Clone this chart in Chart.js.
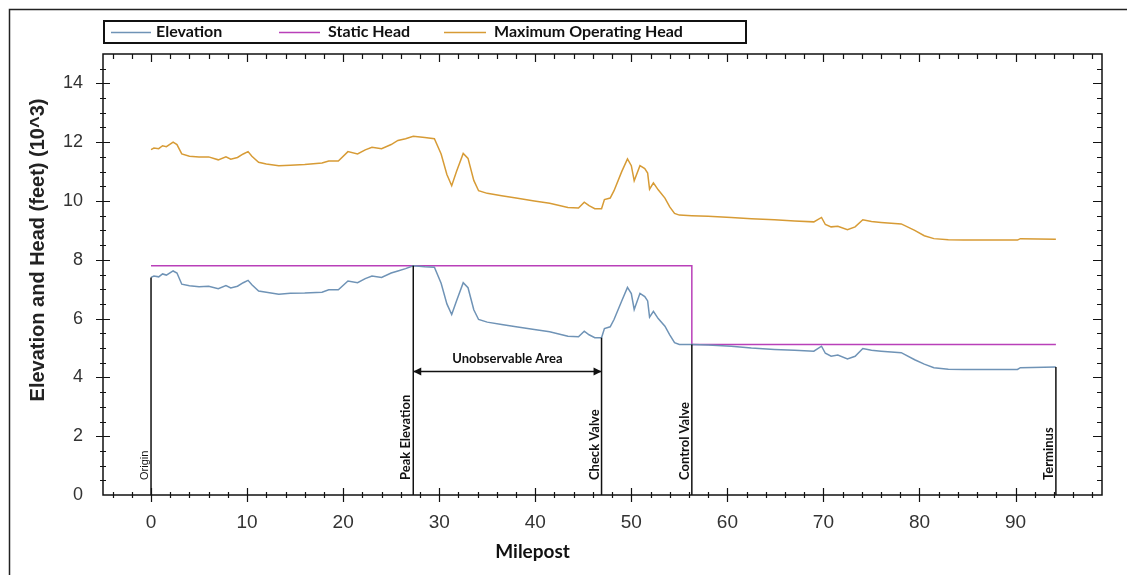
<!DOCTYPE html>
<html>
<head>
<meta charset="utf-8">
<script src="https://cdn.jsdelivr.net/npm/chart.js@4.4.1/dist/chart.umd.min.js"></script>
<style>
  html, body { margin: 0; padding: 0; background: #fff; }
  #wrap { width: 1127px; height: 580px; }
</style>
</head>
<body>
<div id="wrap"><canvas id="profile-chart" width="1127" height="580"></canvas></div>
<script>
// DATA (milepost, thousands of feet)
const elevMiles = [0, 0.3, 0.8, 1.2, 1.6, 2.3, 2.7, 3.2, 4.0, 5.0, 6.0, 7.0, 7.8, 8.3, 9.0, 9.6, 10.1, 10.5, 11.2, 12.0,
  13.3, 14.5, 16.0, 17.8, 18.5, 19.5, 20.5, 21.5, 22.3, 23.0, 24.0, 25.0, 25.7, 26.5, 27.3, 28.5, 29.5, 30.2, 30.8, 31.3,
  31.8, 32.5, 33.0, 33.6, 34.1, 35.0, 36.5, 38.0, 39.9, 41.5, 43.4, 44.5, 45.1, 45.6, 46.2, 46.9, 47.2, 47.8, 48.2, 49.0,
  49.6, 50.0, 50.3, 50.9, 51.4, 51.7, 51.9, 52.3, 52.8, 53.5, 54.0, 54.5, 55.0, 56.3, 58.0, 60.4, 62.5, 64.9, 67.0, 69.0,
  69.8, 70.2, 70.8, 71.5, 72.5, 73.3, 74.1, 75.0, 76.0, 78.1, 79.5, 80.5, 81.5, 83.0, 84.6, 90.2, 90.5, 94.2];
const elevValues = [7.40, 7.45, 7.42, 7.52, 7.48, 7.62, 7.55, 7.17, 7.12, 7.08, 7.10, 7.02, 7.12, 7.04, 7.10, 7.22, 7.30, 7.15, 6.94, 6.90,
  6.83, 6.86, 6.87, 6.90, 6.98, 6.98, 7.28, 7.22, 7.36, 7.45, 7.40, 7.55, 7.62, 7.70, 7.80, 7.76, 7.75, 7.20, 6.50, 6.14,
  6.60, 7.22, 7.05, 6.30, 5.97, 5.88, 5.80, 5.72, 5.63, 5.55, 5.40, 5.38, 5.57, 5.45, 5.35, 5.35, 5.66, 5.72, 5.97, 6.60,
  7.06, 6.85, 6.31, 6.86, 6.75, 6.60, 6.05, 6.25, 6.00, 5.74, 5.45, 5.18, 5.12, 5.12, 5.10, 5.06, 5.00, 4.95, 4.92, 4.89,
  5.06, 4.82, 4.72, 4.76, 4.63, 4.72, 4.98, 4.92, 4.89, 4.84, 4.60, 4.45, 4.33, 4.28, 4.27, 4.27, 4.33, 4.35];

const mohMiles = [0, 0.3, 0.8, 1.2, 1.6, 2.3, 2.7, 3.2, 4.0, 5.0, 6.0, 7.0, 7.8, 8.3, 9.0, 9.6, 10.1, 10.5, 11.2, 12.0,
  13.3, 14.5, 16.0, 17.8, 18.5, 19.5, 20.5, 21.5, 22.3, 23.0, 24.0, 25.0, 25.7, 26.5, 27.3, 28.5, 29.5, 30.2, 30.8, 31.3,
  31.8, 32.5, 33.0, 33.6, 34.1, 35.0, 36.5, 38.0, 39.9, 41.5, 43.4, 44.5, 45.1, 45.6, 46.2, 46.9, 47.2, 47.8, 48.2, 49.0,
  49.6, 50.0, 50.3, 50.9, 51.4, 51.7, 51.9, 52.3, 52.8, 53.5, 54.0, 54.5, 55.0, 56.3, 58.0, 60.4, 62.5, 64.9, 67.0, 69.0,
  69.8, 70.2, 70.8, 71.5, 72.5, 73.3, 74.1, 75.0, 76.0, 78.1, 79.5, 80.5, 81.5, 83.0, 84.6, 90.2, 90.5, 94.2];
const mohValues = [11.75, 11.80, 11.78, 11.88, 11.85, 12.00, 11.92, 11.60, 11.52, 11.50, 11.50, 11.40, 11.50, 11.42, 11.48, 11.60, 11.68, 11.52, 11.32, 11.26,
  11.20, 11.22, 11.24, 11.29, 11.36, 11.36, 11.68, 11.60, 11.74, 11.83, 11.78, 11.92, 12.06, 12.12, 12.20, 12.16, 12.12, 11.60, 10.90, 10.52,
  11.00, 11.62, 11.45, 10.70, 10.35, 10.26, 10.18, 10.10, 10.00, 9.92, 9.78, 9.76, 9.96, 9.84, 9.74, 9.74, 10.05, 10.10, 10.35, 11.00,
  11.43, 11.20, 10.69, 11.20, 11.10, 10.95, 10.40, 10.62, 10.38, 10.10, 9.80, 9.58, 9.52, 9.50, 9.48, 9.44, 9.40, 9.36, 9.32, 9.29,
  9.44, 9.20, 9.12, 9.14, 9.02, 9.12, 9.36, 9.30, 9.27, 9.22, 9.00, 8.82, 8.72, 8.68, 8.67, 8.67, 8.72, 8.70];

const staticMiles = [0, 56.3, 56.3, 94.2];
const staticValues = [7.8, 7.8, 5.12, 5.12];

const markerMiles = [0, 27.3, 46.9, 56.3, 94.2];
const markerTops = [7.4, 7.8, 5.35, 5.12, 4.35];
const markerNames = ['Origin', 'Peak Elevation', 'Check Valve', 'Control Valve', 'Terminus'];

const areaFrom = 27.3;
const areaTo = 46.9;
const areaLevel = 4.2;
const areaLabel = 'Unobservable Area';

const xTicks = [0, 10, 20, 30, 40, 50, 60, 70, 80, 90];
const yTicks = [0, 2, 4, 6, 8, 10, 12, 14];

const pts = (xs, ys) => xs.map((x, i) => ({ x: x, y: ys[i] }));

const markerSets = markerMiles.map((m, i) => ({
  label: markerNames[i],
  data: [{ x: m, y: 0 }, { x: m, y: markerTops[i] }],
  borderColor: '#111',
  borderWidth: 1.5,
  pointRadius: 0,
  isMarker: true
}));

// axes box, ticks, legend, titles, annotations
const decor = {
  id: 'decor',
  afterDraw(chart) {
    const c = chart.ctx;
    const a = chart.chartArea;
    const xs = chart.scales.x, ys = chart.scales.y;
    c.save();

    // outer frame
    c.strokeStyle = '#222';
    c.lineWidth = 1.5;
    c.beginPath();
    c.moveTo(9.5, 575); c.lineTo(9.5, 9.5); c.lineTo(1127, 9.5);
    c.stroke();

    // axes box
    c.lineWidth = 1.5;
    c.strokeStyle = '#111';
    c.strokeRect(a.left, a.top, a.right - a.left, a.bottom - a.top);

    c.lineWidth = 1.2;
    c.beginPath();
    for (let v = -4; v <= 98; v += 2) {
      const px = Math.round(xs.getPixelForValue(v)) + 0.5;
      const major = v % 10 === 0;
      const l = major ? 7 : 3;
      c.moveTo(px, a.bottom - l); c.lineTo(px, a.bottom + l);
      c.moveTo(px, a.top); c.lineTo(px, a.top + (major ? 8 : 5));
    }
    for (let v = 0.5; v < 15; v += 0.5) {
      const py = Math.round(ys.getPixelForValue(v)) + 0.5;
      const major = v % 2 === 0;
      const l = major ? 7 : 3;
      c.moveTo(a.left - l, py); c.lineTo(a.left + l, py);
      c.moveTo(a.right, py); c.lineTo(a.right - (major ? 9 : 5), py);
    }
    c.stroke();

    // legend
    c.lineWidth = 2;
    c.strokeStyle = '#111';
    c.strokeRect(104, 21, 642, 22);
    const slots = [[111, 151, 156], [279, 320, 328], [444, 486, 494]];
    c.font = 'bold 16px Lato';
    c.textBaseline = 'middle';
    c.textAlign = 'left';
    slots.forEach((s, i) => {
      const ds = chart.data.datasets[i];
      c.strokeStyle = ds.borderColor;
      c.lineWidth = 1.5;
      c.beginPath(); c.moveTo(s[0], 32.5); c.lineTo(s[1], 32.5); c.stroke();
      c.fillStyle = '#111';
      c.fillText(ds.label, s[2], 32);
    });

    // axis titles
    c.fillStyle = '#222';
    c.font = 'bold 20px "Liberation Sans"';
    c.textAlign = 'center';
    c.save();
    c.translate(38, 250);
    c.rotate(-Math.PI / 2);
    c.fillText('Elevation and Head (feet) (10^3)', 0, 0);
    c.restore();
    c.font = 'bold 19px Lato';
    c.fillStyle = '#111';
    c.fillText('Milepost', a.left + 0.43 * (a.right - a.left), 552);

    // marker labels
    c.textAlign = 'left';
    c.textBaseline = 'alphabetic';
    markerMiles.forEach((m, i) => {
      const px = xs.getPixelForValue(m);
      c.save();
      c.translate(px - 3, a.bottom - 15);
      c.rotate(-Math.PI / 2);
      c.font = i === 0 ? '11px "Liberation Sans"' : 'bold 13px Lato';
      c.fillStyle = '#111';
      c.fillText(markerNames[i], 0, 0);
      c.restore();
    });

    // double arrow
    const x1 = xs.getPixelForValue(areaFrom), x2 = xs.getPixelForValue(areaTo);
    const y = ys.getPixelForValue(areaLevel);
    c.strokeStyle = '#111';
    c.fillStyle = '#111';
    c.lineWidth = 1.5;
    c.beginPath(); c.moveTo(x1, y); c.lineTo(x2, y); c.stroke();
    c.beginPath(); c.moveTo(x1, y); c.lineTo(x1 + 8, y - 4); c.lineTo(x1 + 8, y + 4); c.closePath(); c.fill();
    c.beginPath(); c.moveTo(x2, y); c.lineTo(x2 - 8, y - 4); c.lineTo(x2 - 8, y + 4); c.closePath(); c.fill();
    c.font = 'bold 13px Lato';
    c.textAlign = 'center';
    c.textBaseline = 'middle';
    c.fillText(areaLabel, (x1 + x2) / 2, y - 13);

    c.restore();
  }
};

const ctx = document.getElementById('profile-chart').getContext('2d');

const chart = new Chart(ctx, {
  type: 'line',
  data: {
    datasets: [
      {
        label: 'Elevation',
        data: pts(elevMiles, elevValues),
        borderColor: '#6f93b6',
        borderWidth: 1.5,
        pointRadius: 0,
        order: 1
      },
      {
        label: 'Static Head',
        data: pts(staticMiles, staticValues),
        borderColor: '#b940b9',
        borderWidth: 1.5,
        pointRadius: 0,
        order: 2
      },
      {
        label: 'Maximum Operating Head',
        data: pts(mohMiles, mohValues),
        borderColor: '#d79b35',
        borderWidth: 1.5,
        pointRadius: 0,
        order: 3
      },
      ...markerSets
    ]
  },
  options: {
    responsive: false,
    animation: false,
    devicePixelRatio: 1,
    layout: { padding: { top: 54, right: 25, bottom: 0, left: 0 } },
    plugins: { legend: { display: false }, tooltip: { enabled: false } },
    scales: {
      x: {
        type: 'linear',
        min: -5,
        max: 99,
        afterFit: s => { s.height = 85; },
        afterBuildTicks: s => { s.ticks = xTicks.map(v => ({ value: v })); },
        grid: { display: false, drawTicks: false },
        border: { display: false },
        ticks: { padding: 16, color: '#333', font: { family: 'Liberation Sans', size: 19 }, maxRotation: 0, autoSkip: false }
      },
      y: {
        min: 0,
        max: 15,
        afterFit: s => { s.width = 103; },
        afterBuildTicks: s => { s.ticks = yTicks.map(v => ({ value: v })); },
        grid: { display: false, drawTicks: false },
        border: { display: false },
        ticks: { padding: 20, color: '#333', font: { family: 'Liberation Sans', size: 18 } }
      }
    }
  },
  plugins: [decor]
});
</script>
</body>
</html>
